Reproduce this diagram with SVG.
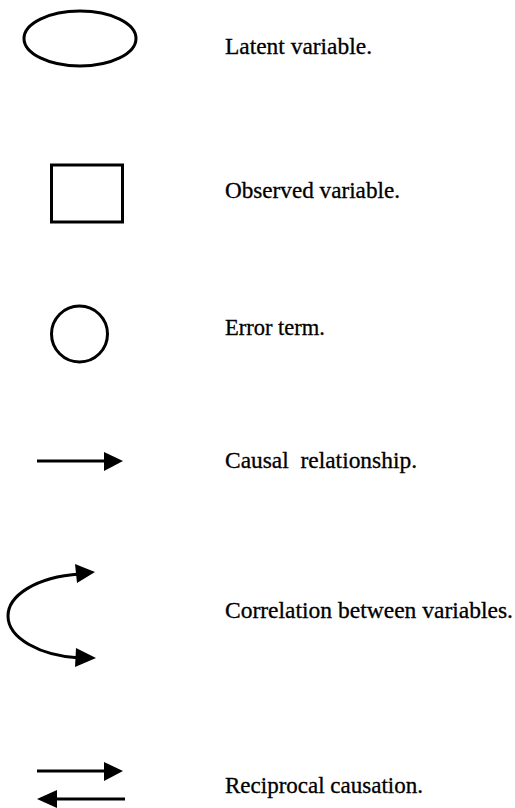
<svg xmlns="http://www.w3.org/2000/svg" width="515" height="808" viewBox="0 0 515 808">
<style>
.shape{fill:none;stroke:#000;stroke-width:3}
.conn{fill:none;stroke:#000;stroke-width:3}
.head{fill:#000;stroke:none}
.lbl{font-family:"Liberation Serif","Times New Roman",serif;font-size:23px;fill:#000;stroke:#000;stroke-width:0.3;white-space:pre}
</style>
<rect width="515" height="808" fill="#fff"/>
<g id="latent">
<ellipse class="shape" cx="80" cy="38.5" rx="56" ry="27.5"/>
<text class="lbl" x="225" y="54" textLength="147" lengthAdjust="spacingAndGlyphs">Latent variable.</text>
</g>
<g id="observed">
<rect class="shape" x="51.5" y="165" width="71" height="57"/>
<text class="lbl" x="225" y="198" textLength="175" lengthAdjust="spacingAndGlyphs">Observed variable.</text>
</g>
<g id="error">
<circle class="shape" cx="79.5" cy="334" r="28"/>
<text class="lbl" x="225" y="335" textLength="100" lengthAdjust="spacingAndGlyphs">Error term.</text>
</g>
<g id="connectors">
<g id="causal">
<line class="conn" x1="37" y1="461" x2="106" y2="461"/>
<polygon class="head" points="104,452 123,461 104,471"/>
</g>
<g id="correlation">
<path class="conn" d="M 80 574 C 35 577 8 596 8 616 C 8 638 40 656 80 658"/>
<polygon class="head" points="75,564 95,572 77,583"/>
<polygon class="head" points="76,648 96,658 75,667"/>
</g>
<g id="reciprocal">
<line class="conn" x1="37" y1="771" x2="106" y2="771"/>
<polygon class="head" points="104,762 123,771 104,781"/>
<line class="conn" x1="55" y1="799" x2="125" y2="799"/>
<polygon class="head" points="57,790 37,799 57,808"/>
</g>
</g>
<g id="labels">
<text class="lbl" x="225" y="468" textLength="192" lengthAdjust="spacingAndGlyphs">Causal  relationship.</text>
<text class="lbl" x="225" y="618" textLength="288" lengthAdjust="spacingAndGlyphs">Correlation between variables.</text>
<text class="lbl" x="225" y="793" textLength="198" lengthAdjust="spacingAndGlyphs">Reciprocal causation.</text>
</g>
</svg>
